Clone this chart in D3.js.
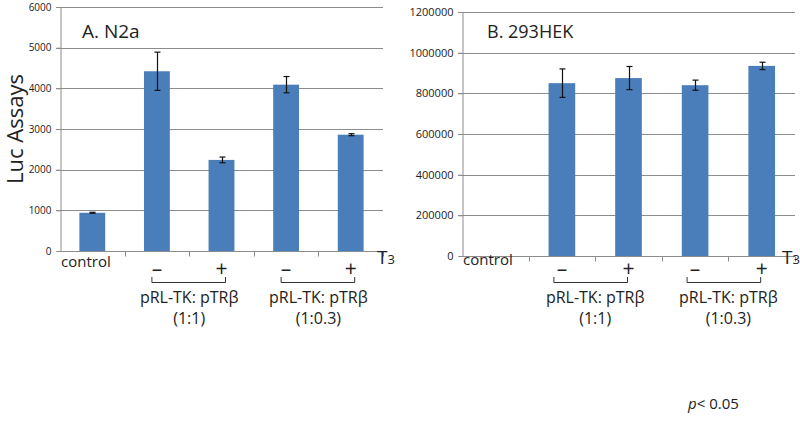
<!DOCTYPE html>
<html>
<head>
<meta charset="utf-8">
<script src="https://cdn.jsdelivr.net/npm/d3@7"></script>
<style>
  html, body { margin: 0; padding: 0; background: #fff; }
  svg { display: block; }
  text { font-family: "Open Sans", "Noto Sans", sans-serif; fill: #222; }
</style>
</head>
<body>
<svg id="chart" width="800" height="421"></svg>
<script>
// ---------- data ----------
const categories = ["control", "n1", "p1", "n3", "p3"];
const signLabels = ["", "–", "+", "–", "+"];
const valuesA = [940, 4420, 2240, 4090, 2860];
const errorsA = [12, 470, 70, 200, 25];
const valuesB = [0, 850000, 875000, 840000, 935000];
const errorsB = [0, 70000, 57000, 25000, 18000];
const ticksA = [0, 1000, 2000, 3000, 4000, 5000, 6000];
const ticksB = [0, 200000, 400000, 600000, 800000, 1000000, 1200000];
const groupNames = ["pRL-TK: pTRβ", "pRL-TK: pTRβ"];
const groupRatios = ["(1:1)", "(1:0.3)"];
const groupMembers = [["n1", "p1"], ["n3", "p3"]];
const panelTitles = ["A. N2a", "B. 293HEK"];

const svg = d3.select("#chart");
const barColor = "#4a7ebb";
const gridColor = "#8c8c8c";

function drawPanel(cfg) {
  const g = svg.append("g");
  const x = d3.scaleBand().domain(categories).range([cfg.x0, cfg.x1]).paddingInner(0).paddingOuter(0);
  const y = d3.scaleLinear().domain([0, cfg.max]).range([cfg.y0, cfg.y1]);
  const bw = x.bandwidth() * 0.4;

  // gridlines
  g.append("g").selectAll("line").data(cfg.ticks.slice(1)).join("line")
    .attr("x1", cfg.x0 - 4).attr("x2", cfg.x1)
    .attr("y1", d => Math.round(y(d)) + 0.5).attr("y2", d => Math.round(y(d)) + 0.5)
    .attr("stroke", gridColor).attr("stroke-width", 1);

  // y axis
  const yAxis = d3.axisLeft(y).tickValues(cfg.ticks).tickSize(4).tickPadding(5).tickFormat(d3.format("d"));
  const ya = g.append("g").attr("transform", `translate(${cfg.x0 + 0.5},0)`).call(yAxis);
  ya.select(".domain").attr("stroke", gridColor);
  ya.selectAll(".tick line").attr("stroke", gridColor);
  ya.selectAll(".tick text").style("font-family", "'Open Sans', sans-serif")
    .style("font-size", cfg.tickFont + "px").attr("fill", "#333");

  // bars
  g.append("g").selectAll("rect").data(categories).join("rect")
    .attr("x", (d) => x(d) + (x.bandwidth() - bw) / 2)
    .attr("width", bw)
    .attr("y", (d, i) => y(cfg.values[i]))
    .attr("height", (d, i) => cfg.y0 - y(cfg.values[i]))
    .attr("fill", barColor);

  // error bars
  const eb = g.append("g").attr("stroke", "#111").attr("stroke-width", 1.2);
  categories.forEach((c, i) => {
    if (!cfg.values[i]) return;
    const cx = Math.round(x(c) + x.bandwidth() / 2) + 0.5;
    const top = y(cfg.values[i] + cfg.errors[i]);
    const bot = y(cfg.values[i] - cfg.errors[i]);
    eb.append("line").attr("x1", cx).attr("x2", cx).attr("y1", top).attr("y2", bot);
    eb.append("line").attr("x1", cx - 3).attr("x2", cx + 3).attr("y1", top).attr("y2", top);
    eb.append("line").attr("x1", cx - 3).attr("x2", cx + 3).attr("y1", bot).attr("y2", bot);
  });

  // x axis
  const xa = g.append("g").attr("transform", `translate(0,${Math.round(cfg.y0) + 0.5})`);
  xa.append("line").attr("x1", cfg.x0 - 2).attr("x2", cfg.x1).attr("stroke", gridColor);
  const bounds = categories.map(c => x(c)).concat([cfg.x1]).slice(1);
  xa.selectAll("line.tk").data(bounds).join("line").attr("class", "tk")
    .attr("x1", d => Math.round(d) + 0.5).attr("x2", d => Math.round(d) + 0.5)
    .attr("y1", 0).attr("y2", 5).attr("stroke", gridColor);

  // control label
  g.append("text").attr("x", cfg.x0 + 1).attr("y", cfg.controlY)
    .style("font-size", "15px").text(categories[0] === "control" ? "control" : "");

  // sign labels
  g.append("g").selectAll("text").data(categories).join("text")
    .attr("x", d => x(d) + x.bandwidth() / 2)
    .attr("y", 276)
    .attr("text-anchor", "middle")
    .style("font-size", "21px")
    .text((d, i) => signLabels[i]);

  // T3
  const t3 = g.append("text").attr("x", cfg.x1 + cfg.t3dx).attr("y", 264).style("font-size", "19px");
  t3.append("tspan").text("T");
  t3.append("tspan").style("font-size", "13px").text("3");

  // brackets and group labels
  groupMembers.forEach((m, gi) => {
    const a = x(m[0]) + x.bandwidth() / 2 + cfg.brk[0];
    const b = x(m[1]) + x.bandwidth() / 2 + cfg.brk[1];
    const mid = (x(m[0]) + x(m[1])) / 2 + x.bandwidth() / 2;
    g.append("path")
      .attr("d", `M${a},277 V282.5 H${b} V277`)
      .attr("fill", "none").attr("stroke", "#333").attr("stroke-width", 1);
    g.append("text").attr("x", mid).attr("y", 303).attr("text-anchor", "middle")
      .style("font-size", "16px").text(groupNames[gi]);
    g.append("text").attr("x", mid).attr("y", 324).attr("text-anchor", "middle")
      .style("font-size", "16px").text(groupRatios[gi]);
  });

  // title
  g.append("text").attr("x", cfg.titleX).attr("y", 38).style("font-size", cfg.titleFont + "px").text(cfg.title);
}

drawPanel({
  x0: 60, x1: 383, y0: 251, y1: 7, max: 6000, ticks: ticksA,
  values: valuesA, errors: errorsA, tickFont: 10, controlY: 267,
  brk: [-5, 4], title: panelTitles[0], titleX: 82, titleFont: 19, t3dx: -6
});
drawPanel({
  x0: 462, x1: 795, y0: 256, y1: 12, max: 1200000, ticks: ticksB,
  values: valuesB, errors: errorsB, tickFont: 11, controlY: 265,
  brk: [-8, -1], title: panelTitles[1], titleX: 487, titleFont: 18, t3dx: -13
});

// y-axis title
svg.append("text")
  .attr("transform", "translate(23,129) rotate(-90)")
  .attr("text-anchor", "middle")
  .style("font-size", "22px")
  .text("Luc Assays");

// p-value note
const pv = svg.append("text").attr("x", 688).attr("y", 409).style("font-size", "15px");
pv.append("tspan").style("font-style", "italic").text("p");
pv.append("tspan").text("< 0.05");
</script>
</body>
</html>
